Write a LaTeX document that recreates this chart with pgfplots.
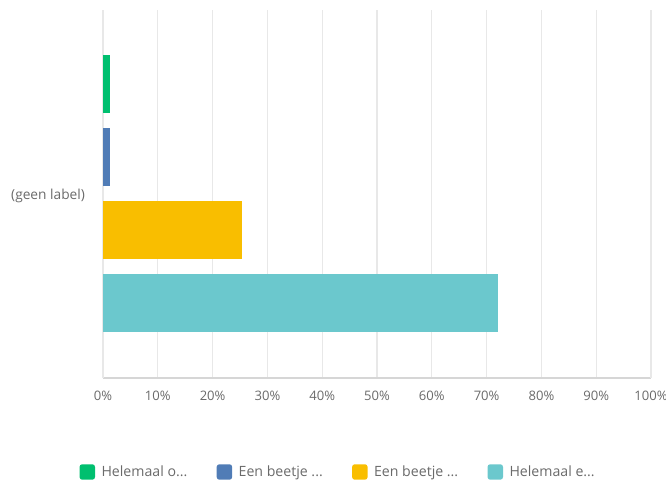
\documentclass[border=0pt]{standalone}
\usepackage{fontspec}
\setmainfont{Open Sans}
\usepackage{pgfplots}
\pgfplotsset{compat=1.18}
\definecolor{cgreen}{HTML}{00BF6F}
\definecolor{cblue}{HTML}{507CB6}
\definecolor{cyellow}{HTML}{F9BE00}
\definecolor{cteal}{HTML}{6BC8CD}
\definecolor{txt}{HTML}{6A6A6A}
\definecolor{gridc}{HTML}{E8E8E8}
\definecolor{axisc}{HTML}{D6D6D6}
\begin{document}
\begin{tikzpicture}
\path[use as bounding box] (0pt,0pt) rectangle (499.5pt,363pt);
\begin{axis}[
  at={(77.25pt,79.5pt)}, anchor=south west,
  scale only axis, width=411pt, height=276pt,
  xmin=0, xmax=100, ymin=-1, ymax=1,
  xbar, bar width=43.5pt,
  xtick={0,10,...,100},
  xticklabel={\pgfmathprintnumber{\tick}\%},
  /pgf/number format/assume math mode=true,
  ytick={0}, yticklabels={(geen label)},
  xmajorgrids, grid style={draw=gridc, line width=0.8pt},
  axis x line*=bottom, axis y line*=left,
  x axis line style={draw=axisc, line width=0.8pt, -},
  y axis line style={draw=gridc, line width=0.8pt, -},
  major tick length=0pt,
  tick label style={font=\fontsize{10.3}{12}\selectfont, text=txt},
  xticklabel style={yshift=-6pt, font=\fontsize{9.8}{12}\selectfont},
  extra x ticks={100}, extra x tick labels={},
  yticklabel style={xshift=-10pt, yshift=-1.5pt},
  legend style={at={(0.4297,-0.2554)}, anchor=center, draw=none, fill=none,
    legend columns=4, font=\fontsize{10.6}{12}\selectfont, text=txt,
    /tikz/every even column/.append style={column sep=20pt}},
  legend cell align=left,
]
\addplot[fill=cgreen, draw=none, bar shift=82.125pt,
  legend image code/.code={\fill[cgreen, rounded corners=2pt] (0pt,-5.8pt) rectangle (11.6pt,5.8pt); \path (14.5pt,0pt);}]
  coordinates {(1.27,0)};
\addlegendentry{Helemaal o...}
\addplot[fill=cblue, draw=none, bar shift=27.375pt,
  legend image code/.code={\fill[cblue, rounded corners=2pt] (0pt,-5.8pt) rectangle (11.6pt,5.8pt); \path (14.5pt,0pt);}]
  coordinates {(1.27,0)};
\addlegendentry{Een beetje ...}
\addplot[fill=cyellow, draw=none, bar shift=-27.375pt,
  legend image code/.code={\fill[cyellow, rounded corners=2pt] (0pt,-5.8pt) rectangle (11.6pt,5.8pt); \path (14.5pt,0pt);}]
  coordinates {(25.32,0)};
\addlegendentry{Een beetje ...}
\addplot[fill=cteal, draw=none, bar shift=-82.125pt,
  legend image code/.code={\fill[cteal, rounded corners=2pt] (0pt,-5.8pt) rectangle (11.6pt,5.8pt); \path (14.5pt,0pt);}]
  coordinates {(72.15,0)};
\addlegendentry{Helemaal e...}
\end{axis}
\end{tikzpicture}
\end{document}
